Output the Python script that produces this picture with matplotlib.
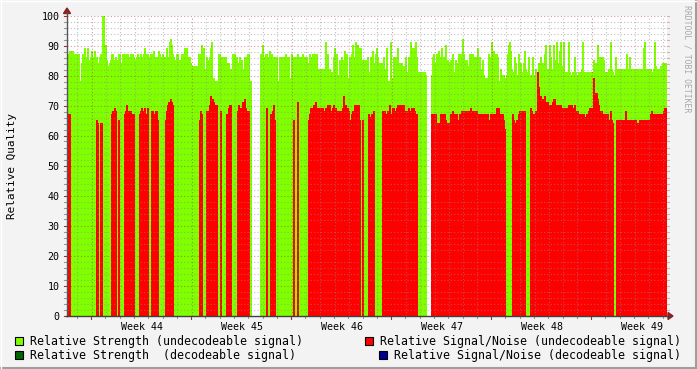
import matplotlib
matplotlib.use("Agg")
import matplotlib.pyplot as plt
from matplotlib.patches import Rectangle, Polygon
from matplotlib.lines import Line2D
import numpy as np

# one value per RRD sample (about 1.7 h each)
strength = [
    77, 86, 87, 88, 88, 86, 88, 86, 87, 87, 87, 78, 87, 78, 78, 84, 87, 84, 89, 86,
    77, 89, 85, 77, 86, 88, 86, 84, 88, 86, 86, 84, 77, 86, 87, 84, 100, 100, 84, 90,
    85, 83, 79, 84, 85, 87, 87, 84, 85, 86, 78, 85, 87, 87, 84, 79, 87, 87, 84, 87,
    79, 87, 86, 84, 87, 82, 87, 86, 79, 85, 86, 87, 78, 86, 87, 86, 84, 87, 89, 87,
    86, 87, 78, 86, 87, 85, 87, 88, 85, 86, 79, 86, 88, 87, 86, 84, 87, 85, 86, 86,
    89, 85, 86, 91, 92, 90, 87, 86, 85, 85, 87, 87, 85, 85, 78, 87, 87, 87, 89, 86,
    89, 86, 84, 86, 84, 77, 83, 83, 83, 83, 83, 83, 87, 87, 86, 90, 86, 89, 82, 82,
    86, 85, 85, 86, 89, 91, 78, 79, 78, 78, 78, 78, 87, 87, 84, 86, 85, 86, 82, 86,
    80, 84, 84, 80, 82, 82, 87, 87, 87, 84, 86, 84, 82, 86, 78, 85, 82, 78, 86, 78,
    86, 87, 87, 78, 78, 0, 0, 0, 0, 0, 0, 0, 0, 0, 87, 87, 90, 86, 86, 87,
    87, 86, 85, 88, 86, 87, 85, 86, 86, 86, 86, 78, 78, 86, 86, 86, 86, 86, 86, 87,
    78, 86, 86, 79, 79, 87, 86, 86, 78, 86, 86, 87, 86, 86, 86, 86, 87, 84, 86, 86,
    86, 84, 78, 87, 86, 86, 87, 87, 87, 87, 87, 80, 82, 82, 82, 82, 82, 82, 82, 91,
    82, 87, 82, 82, 81, 81, 81, 86, 89, 80, 87, 80, 79, 85, 85, 86, 80, 85, 88, 81,
    87, 79, 79, 86, 79, 87, 90, 80, 86, 91, 85, 90, 87, 89, 89, 80, 85, 85, 80, 85,
    82, 86, 80, 81, 86, 80, 88, 78, 84, 87, 89, 86, 84, 84, 84, 84, 84, 86, 79, 82,
    89, 78, 77, 78, 91, 79, 79, 86, 86, 86, 80, 89, 80, 84, 80, 84, 79, 83, 79, 86,
    79, 81, 86, 84, 91, 86, 89, 89, 89, 91, 86, 80, 81, 81, 81, 81, 81, 81, 81, 80,
    0, 0, 0, 0, 0, 80, 86, 87, 80, 84, 87, 85, 88, 86, 82, 89, 86, 79, 86, 90,
    85, 85, 79, 84, 85, 79, 87, 81, 79, 85, 84, 81, 87, 85, 87, 86, 92, 87, 83, 85,
    85, 83, 79, 87, 83, 87, 87, 85, 86, 86, 86, 89, 86, 86, 82, 79, 85, 80, 79, 79,
    78, 79, 87, 85, 86, 91, 87, 88, 87, 85, 87, 86, 78, 78, 82, 80, 79, 80, 79, 79,
    80, 87, 90, 91, 88, 82, 81, 80, 86, 84, 80, 80, 87, 80, 84, 81, 81, 84, 88, 82,
    81, 81, 86, 79, 80, 80, 86, 79, 80, 82, 81, 81, 84, 80, 86, 84, 84, 80, 87, 90,
    82, 79, 82, 90, 86, 82, 81, 90, 85, 79, 91, 84, 80, 88, 91, 83, 81, 91, 81, 81,
    81, 81, 91, 81, 80, 80, 81, 81, 86, 81, 80, 80, 81, 81, 81, 82, 91, 81, 81, 81,
    81, 81, 81, 81, 81, 81, 81, 85, 84, 82, 84, 90, 86, 84, 86, 85, 86, 85, 80, 81,
    81, 81, 82, 82, 91, 82, 81, 80, 80, 86, 82, 81, 82, 81, 82, 81, 82, 81, 82, 81,
    87, 81, 82, 86, 82, 82, 82, 82, 82, 82, 82, 82, 82, 82, 82, 82, 82, 89, 91, 82,
    82, 82, 82, 82, 82, 81, 81, 82, 91, 83, 81, 82, 82, 82, 83, 83, 84, 84, 84, 84,
]

snr = [
    0, 0, 67, 67, 0, 0, 0, 0, 0, 0, 0, 0, 0, 0, 0, 0, 0, 0, 0, 0,
    0, 0, 0, 0, 0, 0, 0, 0, 0, 0, 65, 64, 0, 0, 64, 64, 0, 0, 0, 0,
    0, 0, 0, 0, 0, 67, 68, 68, 69, 68, 0, 0, 65, 0, 0, 0, 0, 0, 67, 68,
    70, 68, 68, 0, 68, 67, 67, 67, 0, 0, 0, 0, 0, 67, 68, 69, 68, 68, 69, 67,
    0, 69, 0, 0, 0, 68, 68, 67, 67, 68, 68, 65, 0, 0, 0, 0, 0, 0, 0, 65,
    68, 70, 71, 71, 72, 71, 70, 0, 0, 0, 0, 0, 0, 0, 0, 0, 0, 0, 0, 0,
    0, 0, 0, 0, 0, 0, 0, 0, 0, 0, 0, 0, 0, 65, 68, 67, 0, 0, 0, 0,
    68, 67, 68, 70, 73, 71, 72, 71, 70, 70, 70, 0, 0, 0, 68, 0, 0, 0, 0, 0,
    67, 65, 69, 70, 70, 0, 0, 0, 0, 0, 0, 68, 70, 69, 69, 69, 71, 71, 72, 69,
    68, 68, 68, 0, 0, 0, 0, 0, 0, 0, 0, 0, 0, 0, 0, 0, 0, 0, 0, 0,
    69, 0, 0, 0, 67, 67, 68, 70, 65, 0, 0, 0, 0, 0, 0, 0, 0, 0, 0, 0,
    0, 0, 0, 0, 0, 0, 0, 65, 0, 0, 0, 71, 0, 0, 0, 0, 0, 0, 0, 0,
    0, 0, 65, 67, 69, 69, 69, 70, 70, 71, 69, 69, 69, 69, 69, 68, 69, 68, 68, 69,
    68, 70, 70, 70, 68, 68, 69, 70, 69, 69, 68, 68, 68, 68, 68, 67, 69, 73, 70, 70,
    69, 69, 68, 65, 0, 67, 68, 0, 70, 70, 70, 70, 70, 65, 0, 0, 65, 0, 0, 0,
    0, 0, 67, 65, 66, 67, 67, 68, 0, 0, 0, 0, 0, 0, 0, 0, 68, 68, 68, 67,
    67, 68, 68, 70, 67, 67, 69, 69, 68, 68, 69, 70, 69, 70, 69, 70, 69, 70, 68, 68,
    68, 68, 69, 68, 0, 69, 68, 69, 68, 67, 67, 0, 0, 0, 0, 0, 0, 0, 0, 0,
    0, 0, 0, 0, 0, 67, 67, 67, 67, 67, 64, 64, 64, 64, 67, 67, 67, 67, 67, 65,
    64, 64, 64, 64, 67, 67, 68, 67, 67, 67, 67, 65, 65, 67, 67, 68, 68, 67, 68, 68,
    68, 68, 68, 67, 69, 68, 68, 68, 68, 68, 68, 67, 67, 65, 67, 67, 67, 67, 67, 67,
    67, 67, 65, 65, 67, 67, 67, 67, 67, 67, 69, 67, 69, 67, 67, 67, 67, 65, 62, 0,
    0, 0, 0, 0, 0, 0, 67, 65, 62, 64, 65, 65, 67, 68, 68, 68, 68, 0, 68, 0,
    0, 0, 0, 0, 69, 68, 67, 65, 67, 68, 68, 81, 76, 71, 73, 72, 72, 71, 73, 71,
    70, 71, 70, 70, 70, 70, 71, 72, 72, 70, 70, 70, 69, 70, 70, 69, 69, 69, 69, 69,
    69, 69, 70, 70, 70, 70, 69, 69, 70, 68, 68, 68, 67, 67, 67, 67, 67, 67, 65, 66,
    67, 67, 68, 69, 68, 69, 68, 79, 74, 71, 74, 72, 70, 68, 67, 68, 67, 67, 65, 67,
    67, 67, 65, 65, 68, 65, 64, 0, 0, 0, 65, 65, 65, 26, 65, 65, 65, 65, 65, 68,
    0, 65, 0, 65, 65, 65, 65, 65, 65, 65, 64, 64, 64, 65, 65, 65, 65, 65, 65, 65,
    65, 65, 65, 65, 67, 68, 67, 67, 65, 67, 67, 67, 67, 65, 67, 65, 67, 68, 69, 69,
]

week_labels = ["Week 44", "Week 45", "Week 46", "Week 47", "Week 48", "Week 49"]
legend_labels = [
    "Relative Strength (undecodeable signal)",
    "Relative Strength  (decodeable signal)",
    "Relative Signal/Noise (undecodeable signal)",
    "Relative Signal/Noise (decodeable signal)",
]
legend_colors = ["#80FF00", "#006600", "#FF0000", "#000090"]

W, H = 697, 369
MONO = "DejaVu Sans Mono"


def fx(px):
    return px / W


def fy(py):
    return 1 - py / H


def pline(x0, y0, x1, y1, **kw):
    fig.add_artist(Line2D([fx(x0), fx(x1)], [fy(y0), fy(y1)],
                          transform=fig.transFigure, **kw))


fig = plt.figure(figsize=(W / 100, H / 100), dpi=100, facecolor="#F3F3F3")
ax = fig.add_axes([fx(66.5), fy(315.5), 600 / W, 300 / H])
ax.set_facecolor("white")
for s in ax.spines.values():
    s.set_visible(False)

n = len(strength)
edges = np.arange(n + 1) - 0.5
ax.stairs(strength, edges, fill=True, color="#80FF00", lw=0, antialiased=False, zorder=2)
ax.stairs(snr, edges, fill=True, color="#FF0000", lw=0, antialiased=False, zorder=3)
ax.set_xlim(-0.5, n - 0.5)
ax.set_ylim(0, 100)

# grid, rrdtool style, drawn on top of the data
minor_c = (0.55, 0.55, 0.55, 0.55)
major_c = (0.6, 0.15, 0.15, 0.45)
dots = (0, (1, 2))
for v in range(2, 101, 2):
    c = major_c if v % 10 == 0 else minor_c
    ax.axhline(v, color=c, lw=0.8, ls=dots, zorder=4)

day = 100 / 7
week0 = 24.7
days = week0 + day * np.arange(-1, 43)
for k, d in enumerate(days):
    if d <= 0 or d >= n - 1:
        continue
    c = major_c if (k - 1) % 7 == 0 else minor_c
    ax.axvline(d, color=c, lw=0.8, ls=dots, zorder=4)
    tlen = 3 if (k - 1) % 7 == 0 else 2
    tc = "#A03030" if (k - 1) % 7 == 0 else "#999999"
    pline(66.5 + d, 316, 66.5 + d, 316 + tlen, color=tc, lw=0.8)

ax.set_xticks(week0 + 50 + 100 * np.arange(len(week_labels)))
ax.set_xticklabels(week_labels, family=MONO, fontsize=7.2)
ax.set_yticks(range(0, 101, 10))
ax.set_yticklabels([str(v) for v in range(0, 101, 10)], family=MONO, fontsize=7.2)
ax.tick_params(length=0, pad=5)

for v in range(0, 101, 2):
    yy = 315.5 - 3 * v
    tc = "#A03030" if v % 10 == 0 else "#999999"
    pline(64, yy, 66.5, yy, color=tc, lw=0.8)
    pline(666.5, yy, 668.5, yy, color=(0.8, 0.5, 0.5, 0.6), lw=0.8)

# axes and arrows
pline(66.5, 316, 66.5, 12, color="#555555", lw=1)
pline(66, 316, 670, 316, color="#404040", lw=1)
fig.add_artist(Polygon([(fx(63.5), fy(13.5)), (fx(70.5), fy(13.5)), (fx(67), fy(8))],
                       closed=True, transform=fig.transFigure, color="#8B2020"))
fig.add_artist(Polygon([(fx(668), fy(312.5)), (fx(668), fy(319.5)), (fx(673), fy(316))],
                       closed=True, transform=fig.transFigure, color="#8B2020"))

fig.text(fx(12), fy(165.5), "Relative Quality", rotation=90, ha="center", va="center",
         family=MONO, fontsize=7.9)
fig.text(fx(687), fy(5), "RRDTOOL / TOBI OETIKER", rotation=270, ha="center", va="top",
         family=MONO, fontsize=5.9, color="#A8A8A8")

# legend
boxes = [(15, 337, 30), (15, 351, 30), (365, 337, 380), (379, 351, 394)]
for (bx, by, tx), lab, col in zip(boxes, legend_labels, legend_colors):
    fig.add_artist(Rectangle((fx(bx), fy(by + 8)), 8 / W, 8 / H, transform=fig.transFigure,
                             facecolor=col, edgecolor="black", lw=0.8))
    fig.text(fx(tx), fy(by + 4.5), lab, ha="left", va="center", family=MONO, fontsize=8.4)

# 3d frame
pline(0, 367.5, 697, 367.5, color="#9E9E9E", lw=1.5)
pline(695.5, 0, 695.5, 369, color="#9E9E9E", lw=1.5)
pline(0, 0.5, 697, 0.5, color="#FFFFFF", lw=1)
pline(0.5, 0, 0.5, 369, color="#FFFFFF", lw=1)

fig.savefig("out.png", dpi=100, facecolor=fig.get_facecolor())
